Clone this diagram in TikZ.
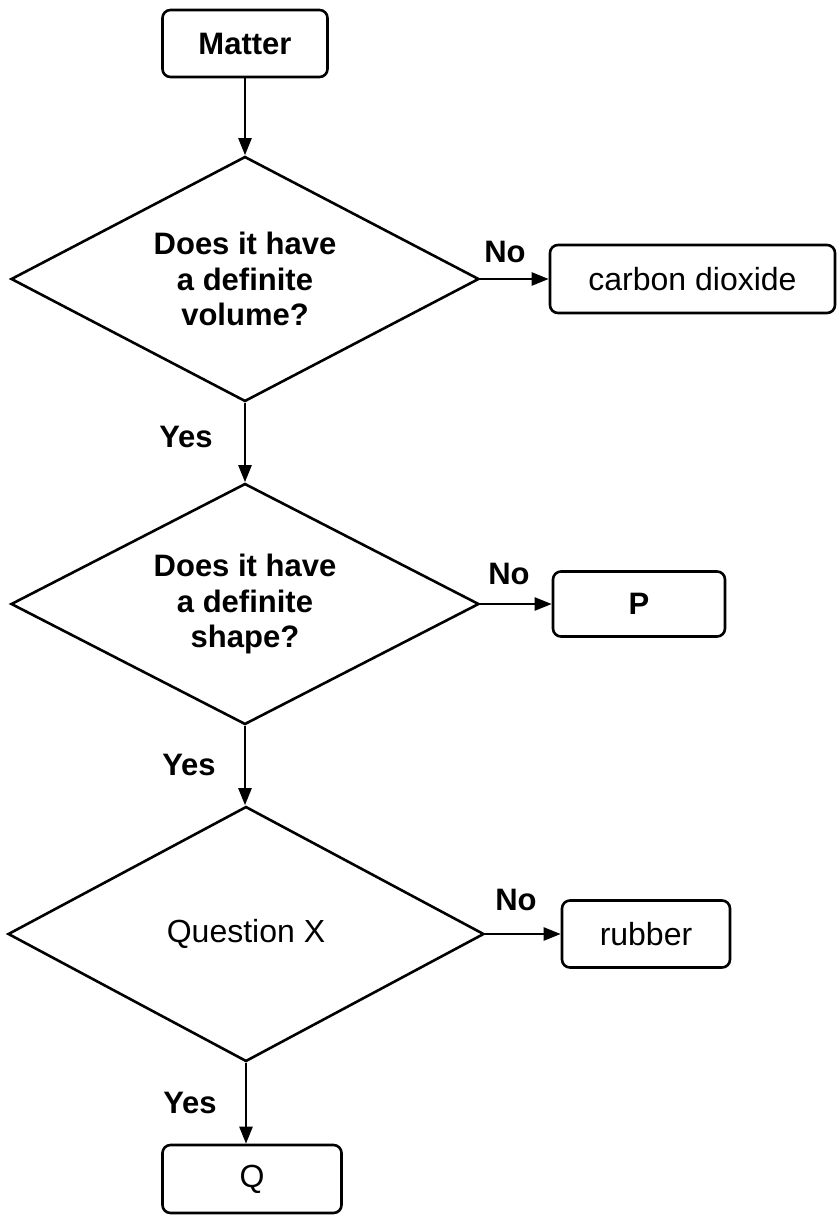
\documentclass[tikz,border=0pt]{standalone}
\usepackage{fontspec}
\setmainfont{Liberation Sans}
\usetikzlibrary{shapes.geometric,arrows.meta}
\begin{document}
\begin{tikzpicture}[x=1pt,y=-1pt,
  every node/.style={font=\fontsize{32}{35.5}\selectfont},
  heavy/.style={font=\fontsize{31}{35.5}\selectfont\bfseries},
  answer/.style={draw, line width=2.6pt, rounded corners=8pt, inner sep=0pt, align=center},
  question/.style={draw, diamond, aspect=1.9, line width=2.6pt, inner sep=0pt, align=center},
  link/.style={line width=2.4pt, -{Triangle[length=17pt,width=13pt]}},
  tag/.style={heavy, inner sep=0pt}
]
\useasboundingbox (0,0) rectangle (837,1216);
\fill[white] (0,0) rectangle (837,1216);

% start box
\node[answer, heavy, minimum width=165pt, minimum height=67pt] (matter) at (245,43.5) {Matter};

% first question and its "No" outcome
\node[question, heavy, minimum width=468pt, minimum height=245pt] (q1) at (245,279)
  {Does it have\\a definite\\volume?};
\node[answer, minimum width=285pt, minimum height=68pt] (co2) at (692.5,279) {carbon dioxide};

% second question and its "No" outcome
\node[question, heavy, minimum width=468pt, minimum height=241pt] (q2) at (245,604)
  {Does it have\\a definite\\shape?};
\node[answer, heavy, minimum width=172pt, minimum height=65pt] (p) at (639,604) {P};

% third question and its outcomes
\node[question, minimum width=476pt, minimum height=255pt] (q3) at (246,934) {Question X};
\node[answer, minimum width=168pt, minimum height=67pt] (rubber) at (646,934) {rubber};
\node[answer, minimum width=179pt, minimum height=68pt] (q) at (252,1179) {Q};

% connectors
\draw[link] (matter) -- (q1);
\draw[link] (q1) -- (q2);
\draw[link] (q2.south) -- (q2.south |- q3.north);
\draw[link] (q3.south) -- (q3.south |- q.north);
\draw[link] (q1) -- (co2);
\draw[link] (q2) -- (p);
\draw[link] (q3) -- (rubber);

% branch labels
\node[tag] (no1) at (505,252) {No};
\node[tag] (no2) at (509,574) {No};
\node[tag] (no3) at (516,900) {No};
\node[tag] (yes1) at (186,437) {Yes};
\node[tag] (yes2) at (189,765) {Yes};
\node[tag] (yes3) at (190,1103) {Yes};
\end{tikzpicture}
\end{document}
